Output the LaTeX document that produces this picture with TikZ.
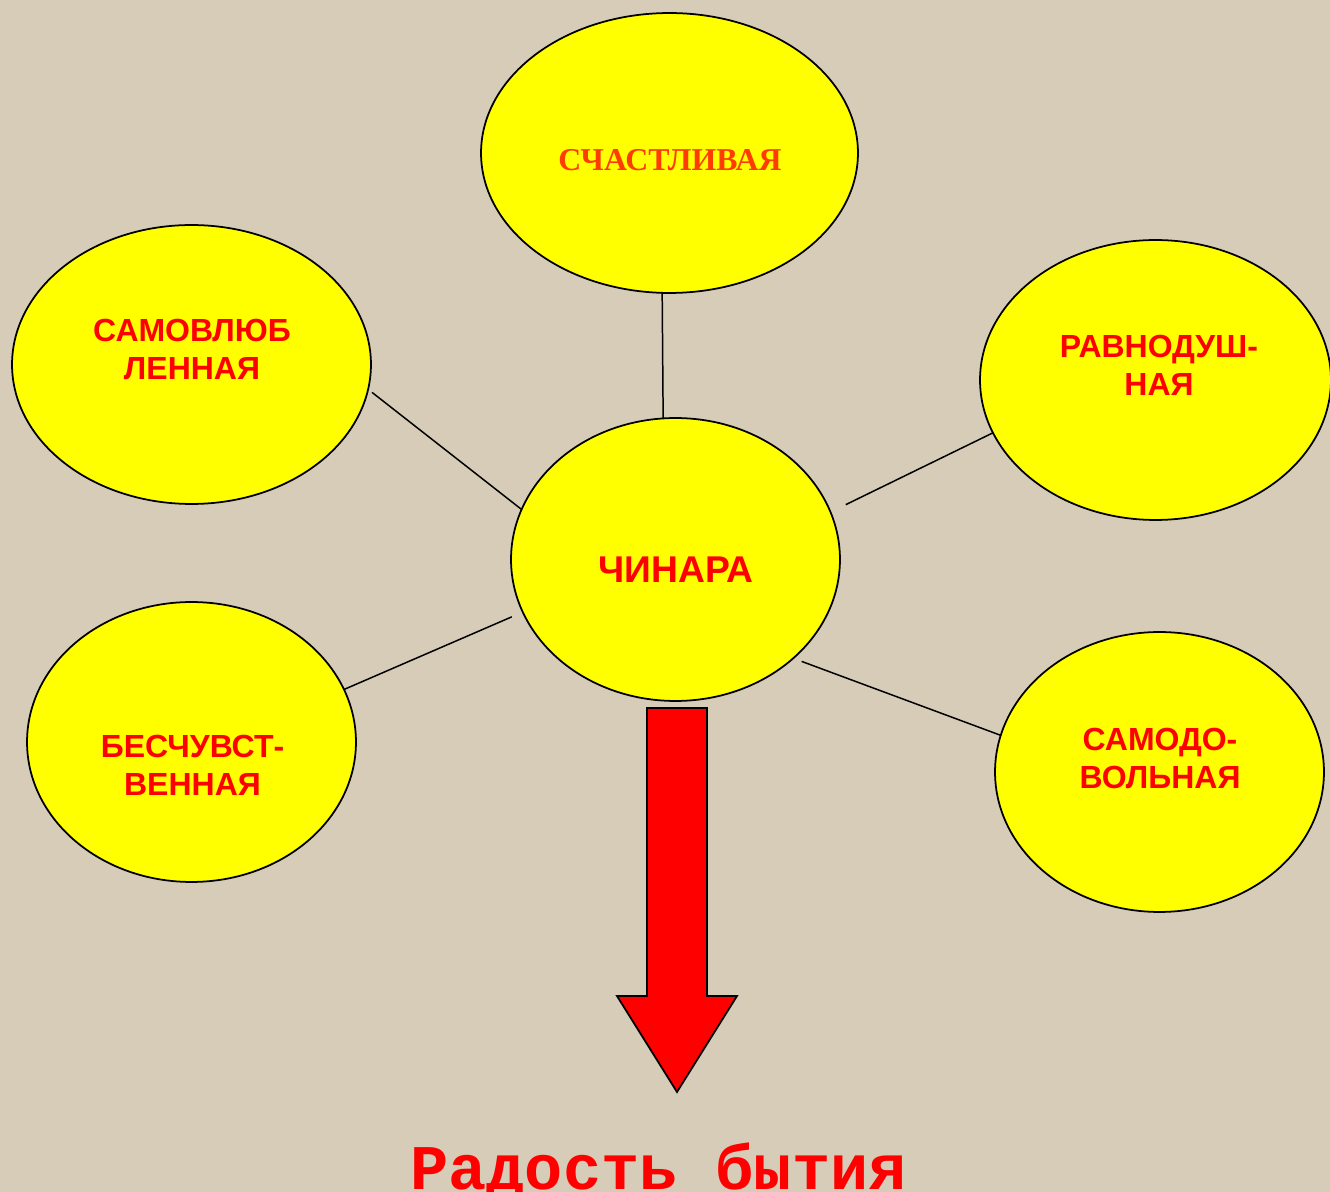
\documentclass[tikz,border=0pt]{standalone}
\usepackage{fontspec}
\setmainfont{Liberation Sans}
\newfontfamily\arialf{Liberation Sans}
\newfontfamily\timesf{Liberation Serif}
\newfontfamily\courf{Liberation Mono}
\usetikzlibrary{shapes.geometric}
\definecolor{bgbeige}{RGB}{214,204,184}
\definecolor{bubyellow}{RGB}{255,255,0}
\definecolor{lblred}{RGB}{255,0,0}
\definecolor{lblorange}{RGB}{255,60,0}
\tikzset{
  bub/.style={ellipse, draw=black, line width=1pt, fill=bubyellow, inner sep=0pt, outer sep=0pt},
  lbl/.style={anchor=base, inner sep=0pt, text=lblred, font=\arialf\bfseries\fontsize{18.2}{21}\selectfont},
  biglbl/.style={anchor=base, inner sep=0pt, text=lblred, font=\arialf\bfseries\fontsize{21.2}{24}\selectfont},
  serlbl/.style={anchor=base, inner sep=0pt, text=lblorange, font=\timesf\bfseries\fontsize{18.1}{22}\selectfont},
  link/.style={draw=black, line width=0.85pt},
  bigarrow/.style={fill=lblred, draw=black, line width=1pt, line join=miter},
}
\begin{document}
\begin{tikzpicture}[x=0.02cm, y=-0.02cm]
\fill[bgbeige] (0,0) rectangle (1330,1192);
\useasboundingbox (0,0) rectangle (1330,1192);
\clip (0,0) rectangle (1330,1192);

% bubbles
\node[bub, minimum width=7.54cm, minimum height=5.6cm] (sch) at (669.5,153) {};
\node[bub, minimum width=7.18cm, minimum height=5.58cm] (sam) at (191.5,364.5) {};
\node[bub, minimum width=7.02cm, minimum height=5.6cm] (rav) at (1155.5,380) {};
\node[bub, minimum width=6.58cm, minimum height=5.66cm] (chi) at (675.5,559.5) {};
\node[bub, minimum width=6.58cm, minimum height=5.6cm] (bes) at (191.5,742) {};
\node[bub, minimum width=6.58cm, minimum height=5.6cm] (smd) at (1159.5,772) {};

% labels
\node[serlbl] (schT) at (670,171) {СЧАСТЛИВАЯ};
\node[lbl] (samT1) at (192,342) {САМОВЛЮБ};
\node[lbl] (samT2) at (192,380) {ЛЕННАЯ};
\node[lbl] (ravT1) at (1159,358) {РАВНОДУШ-};
\node[lbl] (ravT2) at (1159,396) {НАЯ};
\node[biglbl] (chiT) at (676,583) {ЧИНАРА};
\node[lbl] (besT1) at (192.5,758) {БЕСЧУВСТ-};
\node[lbl] (besT2) at (192.5,796) {ВЕННАЯ};
\node[lbl] (smdT1) at (1160,751) {САМОДО-};
\node[lbl] (smdT2) at (1160,789) {ВОЛЬНАЯ};

% connectors
\draw[link] (sch.-93) -- (chi.95.5);
\draw[link, shorten <=0.1cm] (sam.-8.2) -- (chi.162.4);
\draw[link, shorten >=0.34cm] (rav.198.8) -- (chi.17.2);
\draw[link, shorten >=0.24cm] (bes.19) -- (chi.199.8);
\draw[link, shorten >=0.18cm] (smd.167.7) -- (chi.-40);

% big arrow
\draw[bigarrow] (647,708) -- (707,708) -- (707,996) -- (737,996) -- (677,1092)
  -- (617,996) -- (647,996) -- cycle;

% bottom text
\node[anchor=base, inner sep=0pt, text=lblred, font=\courf\bfseries\fontsize{36.2}{40}\selectfont] (joy) at (658.5,1189) {Радость бытия};
\end{tikzpicture}
\end{document}
